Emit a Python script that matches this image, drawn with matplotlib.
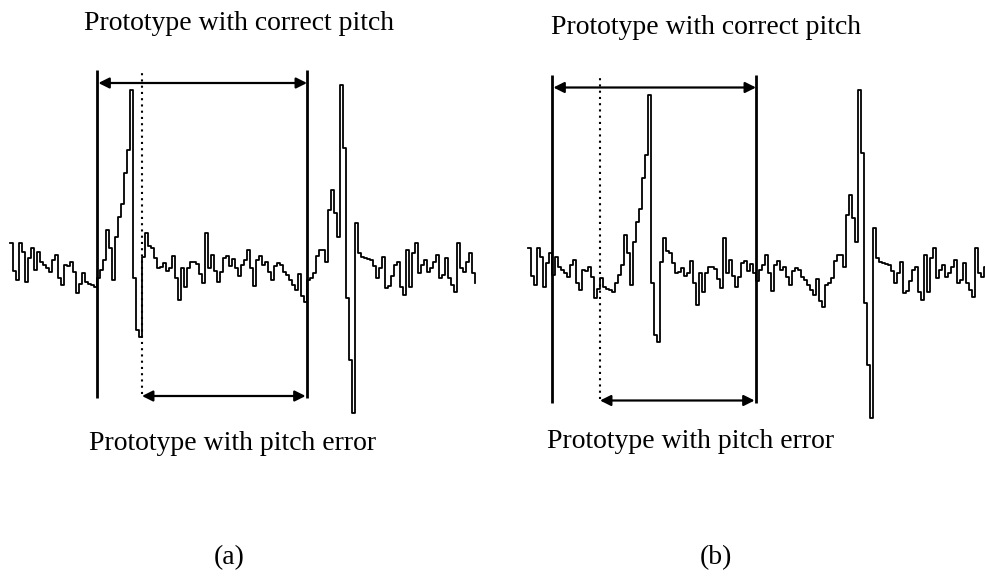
import numpy as np
import matplotlib.pyplot as plt

# speech waveform, one value per sample (arbitrary amplitude units)
signal = [
    25, -3, -12, 25, 16, -14, 10, 20, -2, 16,
    6, 3, 0, -4, 8, 13, -10, -17, 3, 2,
    6, -4, -25, -16, -5, -14, -16, -17, -19, -10,
    -2, 8, 38, 20, -12, 31, 51, 64, 95, 118,
    178, -10, -62, -69, 11, 35, 22, 20, 10, 0,
    1, 5, -3, 0, 12, -10, -32, 0, -19, 0,
    6, 6, 4, -6, -15, 35, 0, 13, -3, -14,
    -4, 10, 12, 2, 9, 0, -8, 3, 8, 18,
    0, -18, 8, 12, 3, 6, -4, -12, 2, 5,
    3, -4, -7, -12, -17, -22, -6, -28, -34, -12,
    -10, -5, 12, 18, 18, 6, 58, 78, 55, 31,
    183, 120, -30, -92, -145, 45, 15, 11, 10, 9,
    8, 2, -10, 0, 11, -20, -18, -8, 3, 6,
    -19, -27, 18, -19, 15, 25, -5, 3, 8, -4,
    0, 6, 13, -10, -7, 10, -10, -17, -24, 25,
    0, -4, 6, 15, -5, -15,
]

# pitch marks (sample index): prototype start/end and the shifted start
marks_a = [29, 99]
shift_a = 44
marks_b = [8, 76]
shift_b = 24

top_label = "Prototype with correct pitch"
bottom_label = "Prototype with pitch error"
panel_labels = ["(a)", "(b)"]

plt.rcParams['font.family'] = ['Liberation Serif', 'DejaVu Serif']

fig = plt.figure(figsize=(9.85, 5.81), dpi=100)
W, H = 985, 581
ax_a = fig.add_axes([0, (H - 420) / H, 492 / W, 380 / H])
ax_b = fig.add_axes([492 / W, (H - 420) / H, 493 / W, 380 / H])

n = np.arange(len(signal))


def draw_panel(ax, marks, shift):
    ax.step(n, signal, where='post', color='black', lw=1.3)
    lo, hi = -130, 198
    for m in marks:
        ax.plot([m, m], [lo, hi], color='black', lw=2.0, solid_capstyle='butt')
    ax.plot([shift, shift], [lo + 4, hi - 2], color='black', lw=1.5,
            linestyle=(0, (1, 2.0)))
    ax.annotate('', xy=(marks[1], 185), xytext=(marks[0], 185),
                arrowprops=dict(arrowstyle='<|-|>', color='black', lw=1.6,
                                mutation_scale=16, shrinkA=1, shrinkB=0))
    ax.annotate('', xy=(marks[1], -128), xytext=(shift, -128),
                arrowprops=dict(arrowstyle='<|-|>', color='black', lw=1.6,
                                mutation_scale=16, shrinkA=0, shrinkB=1))
    ax.axis('off')


draw_panel(ax_a, marks_a, shift_a)
ax_a.set_xlim(-10 / 3, 482 / 3)
ax_a.set_ylim(268 - 420, 268 - 40)

draw_panel(ax_b, marks_b, shift_b)
ax_b.set_xlim(-12, 457 / 3)
ax_b.set_ylim(272.5 - 420, 272.5 - 40)

fs = 20
fig.text(239 / W, 1 - 24 / H, top_label, ha='center', va='center', fontsize=fs)
fig.text(706 / W, 1 - 28 / H, top_label, ha='center', va='center', fontsize=fs)
fig.text(233 / W, 1 - 443 / H, bottom_label, ha='center', va='center', fontsize=fs)
fig.text(691 / W, 1 - 441 / H, bottom_label, ha='center', va='center', fontsize=fs)
fig.text(229 / W, 1 - 558 / H, panel_labels[0], ha='center', va='center', fontsize=fs)
fig.text(716 / W, 1 - 558 / H, panel_labels[1], ha='center', va='center', fontsize=fs)

fig.savefig('out.png', dpi=100, facecolor='white')
